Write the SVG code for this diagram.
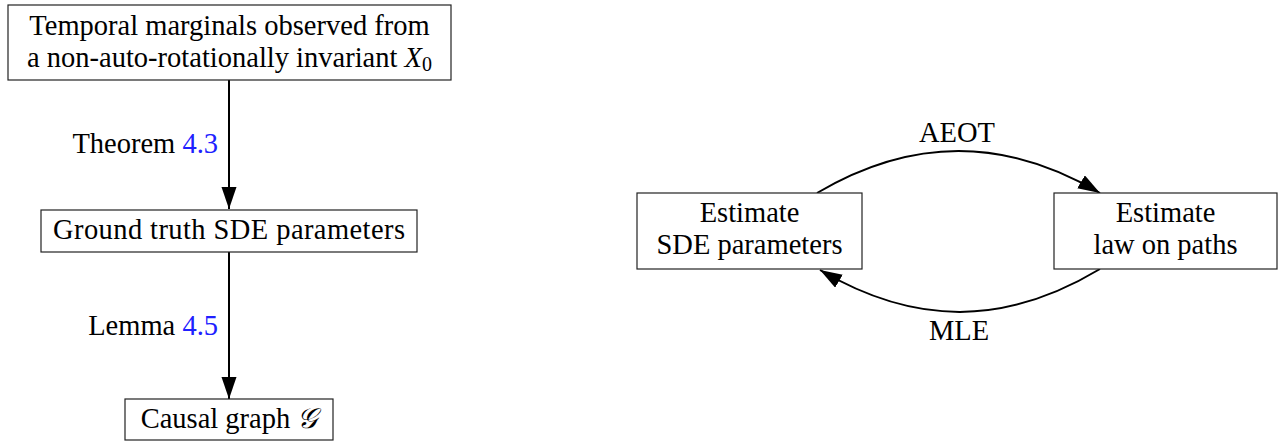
<svg xmlns="http://www.w3.org/2000/svg" width="1279" height="441" viewBox="0 0 1279 441" font-family="Liberation Serif, Times New Roman, serif" font-size="28.5">
<style>
.c{text-anchor:middle}
.r{text-anchor:end}
.box{fill:#fff;stroke:#222;stroke-width:1.2}
.edge{fill:none;stroke:#000;stroke-width:2}
.ref{fill:#2020ff}
.it{font-style:italic}
</style>
<defs>
<marker id="ah" markerUnits="userSpaceOnUse" markerWidth="24" markerHeight="16" refX="22" refY="7.5" orient="auto" viewBox="0 0 24 16">
<path d="M0,0 L22,7.5 L0,15 Z" fill="#000"/>
</marker>
</defs>
<g id="connectors">
<path class="edge" d="M229,80 L229,209" marker-end="url(#ah)"/>
<path class="edge" d="M229,252 L229,399" marker-end="url(#ah)"/>
<path class="edge" d="M817,193 C912,137 1005,137 1100,193" marker-end="url(#ah)"/>
<path class="edge" d="M1100,269 C1005,326 915,326 820,270" marker-end="url(#ah)"/>
<text class="r" x="218" y="153" font-family="Liberation Serif">Theorem <tspan class="ref">4.3</tspan></text>
<text class="r" x="218" y="335" font-family="Liberation Serif">Lemma <tspan class="ref">4.5</tspan></text>
<text class="c" x="957" y="142" font-family="Liberation Serif">AEOT</text>
<text class="c" x="959" y="340" font-family="Liberation Serif">MLE</text>
</g>
<g id="node-marginals">
<rect class="box" x="8" y="5" width="443" height="75"/>
<text class="c" x="229.5" y="35" font-family="Liberation Serif">Temporal marginals observed from</text>
<text class="c" x="229.5" y="67" font-family="Liberation Serif">a non-auto-rotationally invariant <tspan class="it">X</tspan><tspan font-size="20" dy="4">0</tspan></text>
</g>
<g id="node-ground-truth">
<rect class="box" x="41" y="210" width="376" height="42"/>
<text class="c" x="229" y="239" font-family="Liberation Serif" textLength="352" lengthAdjust="spacing">Ground truth SDE parameters</text>
</g>
<g id="node-causal-graph">
<rect class="box" x="125" y="399" width="208" height="41"/>
<text class="c" x="229" y="428" font-family="Liberation Serif">Causal graph <tspan class="it">𝒢</tspan></text>
</g>
<g id="node-estimate-sde">
<rect class="box" x="637" y="193" width="225" height="76"/>
<text class="c" x="749.5" y="222" font-family="Liberation Serif">Estimate</text>
<text class="c" x="749.5" y="254" font-family="Liberation Serif">SDE parameters</text>
</g>
<g id="node-estimate-law">
<rect class="box" x="1054" y="193" width="223" height="76"/>
<text class="c" x="1165.5" y="222" font-family="Liberation Serif">Estimate</text>
<text class="c" x="1165.5" y="254" font-family="Liberation Serif">law on paths</text>
</g>
</svg>
